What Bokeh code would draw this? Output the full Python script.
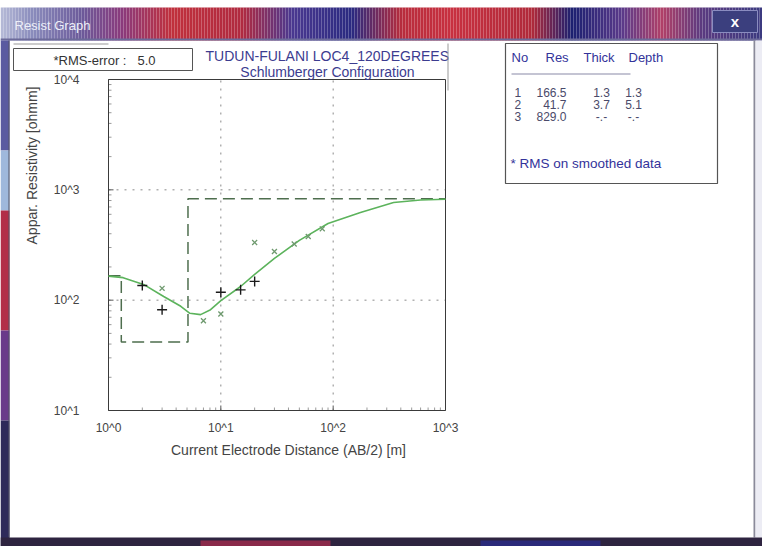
import math
from bokeh.plotting import figure
from bokeh.models import Range1d
from bokeh.core.properties import value
from bokeh.embed import file_html
from bokeh.resources import INLINE

# ---------------- data ----------------
obs_ab2 = [2, 3, 10, 15, 20]
obs_rho = [136, 82, 118, 124, 148]
smooth_ab2 = [3, 7, 10, 20, 30, 45, 60, 80]
smooth_rho = [128, 65, 75, 333, 276, 323, 378, 443]
curve_ab2 = [1, 1.35, 2.05, 3.1, 4.4, 5.3, 6.6, 8.1, 10, 15, 20, 30, 50, 90, 175, 345, 600, 1000]
curve_rho = [165, 160, 139, 108, 88, 76, 74, 82, 99, 133, 171, 239, 348, 495, 623, 767, 810, 822]
layer_no = [1, 2, 3]
layer_res = [166.5, 41.7, 829.0]
layer_thick = ["1.3", "3.7", "-.-"]
layer_depth = ["1.3", "5.1", "-.-"]
layer_bounds = [1.3, 5.1]
x_ticks = [1, 10, 100, 1000]
y_ticks = [10, 100, 1000, 10000]
x_tick_labels = ["10^0", "10^1", "10^2", "10^3"]
y_tick_labels = ["10^1", "10^2", "10^3", "10^4"]
x_grid = [10, 100]
y_grid = [100, 1000]
rms_error = 5.0
survey_title = "TUDUN-FULANI LOC4_120DEGREES"
config_title = "Schlumberger Configuration"
window_title = "Resist Graph"
x_title = "Current Electrode Distance (AB/2) [m]"
y_title = "Appar. Resistivity [ohmm]"
table_header = ["No", "Res", "Thick", "Depth"]
table_note = "* RMS on smoothed data"

FONT = "Liberation Sans"
W, H = 762, 546
FL, FR, FT, FB = 108, 445, 79, 410   # plot box edges in page pixels

LX0, LX1 = math.log10(x_ticks[0]), math.log10(x_ticks[-1])
LY0, LY1 = math.log10(y_ticks[0]), math.log10(y_ticks[-1])


def X(px):
    """page pixel column -> position on the log x scale"""
    return 10 ** (LX0 + (px - FL) / (FR - FL) * (LX1 - LX0))


def Y(py):
    """page pixel row (top-down) -> position on the log y scale"""
    return 10 ** (LY0 + (FB - py) / (FB - FT) * (LY1 - LY0))


# the frame spans the whole window; the plot box is drawn inside it
p = figure(width=W, height=H, x_axis_type="log", y_axis_type="log",
           x_range=Range1d(X(0), X(W)), y_range=Range1d(Y(H), Y(0)),
           x_axis_location=None, y_axis_location=None,
           output_backend="svg", toolbar_location=None,
           min_border=0, min_border_left=0, min_border_right=0,
           min_border_top=0, min_border_bottom=0,
           border_fill_color="white", background_fill_color="white",
           outline_line_color=None)
p.grid.visible = False


def box(l, t, r, b, fill, line=None, lw=1):
    p.quad(left=[X(l)], right=[X(r)], top=[Y(t)], bottom=[Y(b)],
           fill_color=fill if fill else "white", fill_alpha=1.0 if fill else 0.0,
           line_color=line, line_width=lw)


def text(x, y, s, size="12px", color="#333333", align="left", angle=0.0, style="normal"):
    p.text(x=[X(x)], y=[Y(y)], text=[s], text_font=value(FONT),
           text_font_size=value(size), text_color=color, text_align=align,
           text_baseline="middle", angle=angle, text_font_style=style)


def mix(c1, c2, f):
    a = [int(c1[i:i + 2], 16) for i in (1, 3, 5)]
    b = [int(c2[i:i + 2], 16) for i in (1, 3, 5)]
    return "#" + "".join(f"{round(u + (v - u) * f):02x}" for u, v in zip(a, b))


# ---- desktop / window decoration ----
box(0, 0, W, 7, "white")
bar_keys = [(0, "#b4b8d6"), (30, "#8a8cbc"), (80, "#6c5a9a"), (120, "#8a3a7c"),
            (170, "#c0303c"), (240, "#b02a40"), (290, "#4a3890"), (350, "#2a2a80"),
            (400, "#b82c3c"), (450, "#c83040"), (530, "#b02a3a"), (570, "#1c2070"),
            (620, "#5a3a8a"), (660, "#b04068"), (700, "#5a3a80"), (W, "#3a3a80")]
bl, br, bc = [], [], []
for sx in range(0, W, 3):
    for (x0, c0), (x1, c1) in zip(bar_keys[:-1], bar_keys[1:]):
        if x0 <= sx < x1:
            bc.append(mix(c0, c1, (sx - x0) / (x1 - x0)))
            break
    bl.append(X(sx))
    br.append(X(sx + 3))
p.quad(left=bl, right=br, top=[Y(7)] * len(bl), bottom=[Y(40)] * len(bl),
       fill_color=bc, line_color=None)
box(0, 38, W, 40, "#6c6a9a")
box(712, 10, 757, 32, "#3b3f7e", line="#8a8cc0")
text(14, 25, window_title, size="13px", color="#eceef8")
text(734.5, 21, "x", size="15px", color="white", align="center", style="bold")

box(0, 40, 9, 150, "#5a5aa0")
box(0, 150, 9, 210, "#9fb8dc")
box(0, 210, 9, 330, "#b22e48")
box(0, 330, 9, 420, "#6a3a8a")
box(0, 420, 9, H, "#2e2a5a")
box(8, 40, 9, 537, "#555566")
box(753, 40, 755, 537, "#8a8a9a")
box(755, 40, W, 537, "#ececf4")
box(0, 537, W, H, "#2e2440")
box(200, 540, 330, H, "#8a2a4a")
box(480, 540, 600, H, "#2a2a7a")

# ---- plot box: grid, ticks, frame ----
p.segment(x0=x_grid, x1=x_grid, y0=[y_ticks[0]] * len(x_grid), y1=[y_ticks[-1]] * len(x_grid),
          line_color="#8a8a8a", line_dash="2 6", line_width=1)
p.segment(x0=[x_ticks[0]] * len(y_grid), x1=[x_ticks[-1]] * len(y_grid), y0=y_grid, y1=y_grid,
          line_color="#8a8a8a", line_dash="2 6", line_width=1)

minor_x = [m * t for t in x_ticks[:-1] for m in range(2, 10)]
minor_y = [m * t for t in y_ticks[:-1] for m in range(2, 10)]
p.segment(x0=minor_x, x1=minor_x, y0=[y_ticks[0]] * len(minor_x), y1=[Y(FB - 3)] * len(minor_x),
          line_color="#9a9a9a", line_width=1)
p.segment(x0=[x_ticks[0]] * len(minor_y), x1=[X(FL + 3)] * len(minor_y), y0=minor_y, y1=minor_y,
          line_color="#9a9a9a", line_width=1)
p.segment(x0=x_ticks, x1=x_ticks, y0=[y_ticks[0]] * len(x_ticks), y1=[Y(FB - 5)] * len(x_ticks),
          line_color="#555555", line_width=1)
p.segment(x0=[x_ticks[0]] * len(y_ticks), x1=[X(FL + 5)] * len(y_ticks), y0=y_ticks, y1=y_ticks,
          line_color="#555555", line_width=1)
p.quad(left=[x_ticks[0]], right=[x_ticks[-1]], bottom=[y_ticks[0]], top=[y_ticks[-1]],
       fill_alpha=0.0, line_color="#3a3a3a", line_width=1)

# tick labels
p.text(x=x_ticks, y=[Y(FB + 17)] * len(x_ticks), text=x_tick_labels,
       text_font=value(FONT), text_font_size=value("12px"), text_color="#444444",
       text_align="center", text_baseline="middle")
p.text(x=[X(FL - 29)] * len(y_ticks), y=y_ticks, text=y_tick_labels,
       text_font=value(FONT), text_font_size=value("12px"), text_color="#444444",
       text_align="right", text_baseline="middle")

# ---- data ----
step_x = [x_ticks[0]] + layer_bounds + [x_ticks[-1]]
step_y = layer_res + [layer_res[-1]]
p.step(step_x, step_y, mode="after", line_color="#4e6e4e", line_width=1.5, line_dash="12 6")
p.line(curve_ab2, curve_rho, line_color="#5cb35c", line_width=1.6)
p.scatter(smooth_ab2, smooth_rho, marker="x", size=7, line_color="#6f9a6f", line_width=1.3)
p.scatter(obs_ab2, obs_rho, marker="cross", size=10, line_color="#1a1a1a", line_width=1.4)

# ---- axis titles ----
text(31, 165, y_title, size="14px", color="#444444", align="center", angle=math.pi / 2)
text(288, 449, x_title, size="14px", color="#444444", align="center")

# ---- RMS box & titles ----
box(13, 43, 108, 44, "#9a9a9a")
box(13, 48, 192, 70, "white", line="#555555", lw=1)
text(53, 59.5, "*RMS-error :", size="13px", color="#333333")
text(137, 59.5, f"{rms_error:.1f}", size="13px", color="#333333")
text(205, 55, survey_title, size="14px", color="#3c3c90")
text(327, 71, config_title, size="14px", color="#3c3c90", align="center")
box(447, 43, 448, 90, "#9a9a9a")

# ---- layer table ----
box(505, 43, 717, 183, "white", line="#555555", lw=1.2)
for hx, ht in zip([511, 545, 583, 628], table_header):
    text(hx, 57, ht, size="13px", color="#33339a")
box(511, 73, 630, 74, "#8a8aa8")
for i in range(len(layer_no)):
    ry = 92 + 12 * i
    text(514, ry, str(layer_no[i]), size="12px", color="#4a4a6a")
    text(566, ry, f"{layer_res[i]:.1f}", size="12px", color="#4a4a6a", align="right")
    text(601, ry, layer_thick[i], size="12px", color="#4a4a6a", align="center")
    text(633, ry, layer_depth[i], size="12px", color="#4a4a6a", align="center")
text(510, 163, table_note, size="13.5px", color="#33339a")

open("out.html", "w").write(file_html(p, INLINE))
